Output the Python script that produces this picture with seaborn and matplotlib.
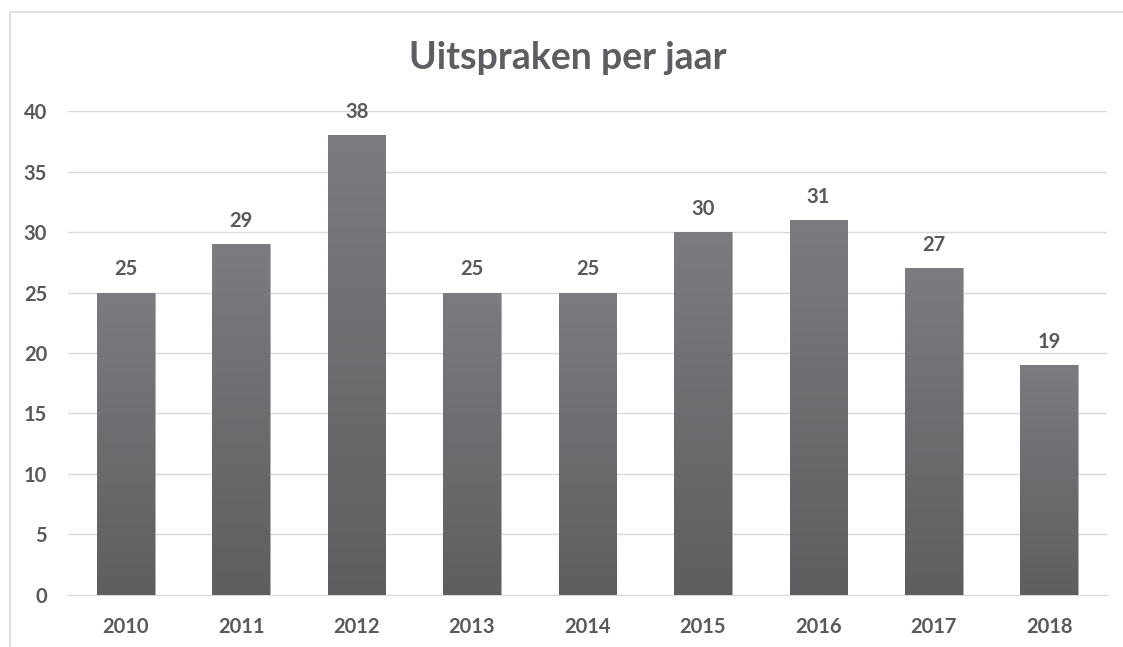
import numpy as np
import pandas as pd
import matplotlib
matplotlib.use("Agg")
from matplotlib import pyplot as plt
from matplotlib.lines import Line2D
import seaborn as sns

# data
years = ["2010", "2011", "2012", "2013", "2014", "2015", "2016", "2017", "2018"]
counts = [25, 29, 38, 25, 25, 30, 31, 27, 19]

df = pd.DataFrame({"jaar": years, "uitspraken": counts})

txt = "#595959"
sns.set_style("white")
plt.rcParams["font.family"] = ["Lato", "DejaVu Sans"]

fig = plt.figure(figsize=(11.23, 6.47), dpi=100)
ax = fig.add_axes([0.0605, 0.0804, 0.9253, 0.748])

sns.barplot(data=df, x="jaar", y="uitspraken", color="#6b6b6e", width=0.5,
            saturation=1, ax=ax, zorder=2)

# gradient fill on the bars (lighter at top, darker at bottom)
grad = np.linspace(0, 1, 256).reshape(-1, 1)
cmap = matplotlib.colors.LinearSegmentedColormap.from_list("g", ["#5e5e60", "#7b7c80"])
for p in ax.patches:
    x0, y0 = p.get_x(), p.get_y()
    w, h = p.get_width(), p.get_height()
    im = ax.imshow(grad, cmap=cmap, aspect="auto", origin="lower",
                   extent=[x0, x0 + w, y0, y0 + h], zorder=3)
    im.set_clip_path(p)
    p.set_edgecolor("#b0b0b0")
    p.set_linewidth(0.6)

ax.set_xlim(-0.5, len(years) - 0.5)
ax.set_ylim(0, 40)
ax.set_yticks(range(0, 41, 5))
ax.yaxis.grid(True, color="#d9d9d9", linewidth=1, zorder=0)
ax.set_axisbelow(True)
for s in ["top", "right", "left"]:
    ax.spines[s].set_visible(False)
ax.spines["bottom"].set_color("#d9d9d9")
ax.tick_params(axis="both", length=0, labelsize=14.5, labelcolor=txt)
ax.tick_params(axis="y", pad=15)
ax.tick_params(axis="x", pad=16)
for lab in ax.get_xticklabels() + ax.get_yticklabels():
    lab.set_fontweight("bold")
ax.set_xlabel("")
ax.set_ylabel("")

for i, v in enumerate(counts):
    ax.text(i, v + 1.1, str(v), ha="center", va="bottom", fontsize=14.5,
            fontweight="bold", color=txt)

fig.text(0.5058, 0.91, "Uitspraken per jaar", ha="center", va="center",
         fontsize=27, fontweight="bold", color="#5d5e61")

# chart border (top and left edges only show in the crop)
bx, by = 9.5 / 1123, 1 - 12 / 647
fig.add_artist(Line2D([bx, 1], [by, by], transform=fig.transFigure,
                      color="#d9d9d9", linewidth=1.2))
fig.add_artist(Line2D([bx, bx], [0, by], transform=fig.transFigure,
                      color="#d9d9d9", linewidth=1.2))

fig.savefig("out.png", dpi=100)
